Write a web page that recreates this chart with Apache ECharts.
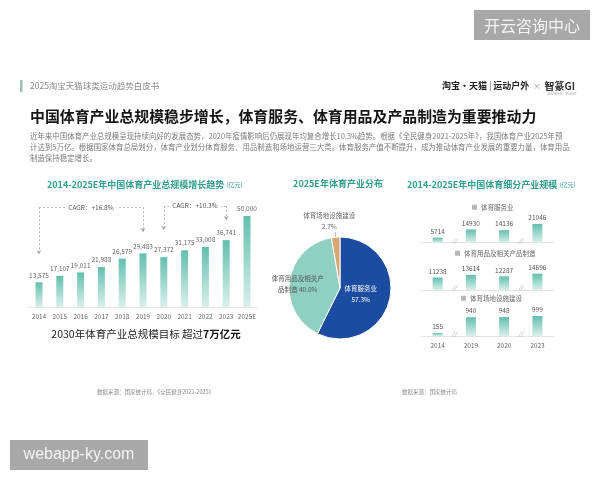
<!DOCTYPE html>
<html><head><meta charset="utf-8">
<script src="https://cdn.jsdelivr.net/npm/echarts@6/dist/echarts.min.js"></script>
<style>html,body{margin:0;padding:0;background:#fff}#c{width:600px;height:480px}</style>
</head><body><div id="c"></div>
<script>
// ---- data ----
const years = ['2014','2015','2016','2017','2018','2019','2020','2021','2022','2023','2025E'];
const totalScale = [13575,17107,19011,21988,26579,29483,27372,31175,33008,36741,50000];
const pieNames = ['体育服务业','体育用品及相关产品制造','体育场地设施建设'];
const pieShares = [57.3, 40.0, 2.7];
const subYears = ['2014','2019','2020','2023'];
const serviceScale = [5714,14930,14136,21046];
const goodsScale = [11238,13614,12287,14696];
const venueScale = [155,940,948,999];
const cagrNotes = ['CAGR：+16.8%','CAGR：+10.3%'];
const cagrSpans = [['2014','2019'],['2020','2023']];

// ---- styles ----
const FONT = '"Noto Sans CJK SC", "Noto Sans", sans-serif';
const TEAL = '#2f9d8f';
const barGrad = new echarts.graphic.LinearGradient(0,0,0,1,[{offset:0,color:'#62bfae'},{offset:1,color:'#d9f0eb'}]);

const chart = echarts.init(document.getElementById('c'), null, {renderer:'canvas'});

// CAGR annotation geometry (in data units of the left chart)
const cagrLevel = [54800, 55500];
const cagrTips = [[29000, 41200],[42300, 47800]];
const dashStyle = {type:[2,2], color:'#a8a8a8', width:0.8};
const markData = [];
cagrSpans.forEach((sp, i) => {
  const lvl = cagrLevel[i];
  const lab = {show:true, position:'insideMiddle', formatter:cagrNotes[i], backgroundColor:'#fff', padding:[1,3], fontSize:6.5, color:'#555', fontFamily:FONT};
  markData.push([
    {coord:[sp[0], lvl], symbol:'none', label:lab},
    {coord:[sp[1], lvl], symbol:'none', label:lab}
  ]);
  markData.push([{coord:[sp[0], lvl], symbol:'none'},{coord:[sp[0], cagrTips[i][0]], symbol:'arrow', symbolSize:[4,4]}]);
  markData.push([{coord:[sp[1], lvl], symbol:'none'},{coord:[sp[1], cagrTips[i][1]], symbol:'arrow', symbolSize:[4,4]}]);
});

// break marks between non-consecutive years
const breaks = [];
for (let i = 0; i < subYears.length - 1; i++) {
  if (parseInt(subYears[i+1]) - parseInt(subYears[i]) > 1) breaks.push([i + 0.5, 0]);
}

const subGrids = [
  {top:212.7, height:30},
  {top:260, height:30},
  {top:306, height:30}
];
const subMax = [33750, 27000, 1500];
const subSeries = [serviceScale, goodsScale, venueScale];
const subNames = [pieNames[0], pieNames[1], pieNames[2]];
const legendLeft = [472, 455, 461];
const legendTop = [204, 250, 295];

const grids = [{left:28.6, width:228.8, top:197.8, height:109.2}];
subGrids.forEach(g => grids.push({left:421, width:133, top:g.top, height:g.height}));

const xAxes = [{
  type:'category', data:years, gridIndex:0,
  axisLine:{lineStyle:{color:'#e3e3e3'}}, axisTick:{show:false},
  axisLabel:{interval:0, fontSize:6.5, color:'#666', margin:6, fontFamily:FONT}
}];
const yAxes = [{type:'value', gridIndex:0, min:0, max:60000, show:false}];
subGrids.forEach((g, k) => {
  xAxes.push({type:'category', data:subYears, gridIndex:k+1,
    axisLine:{lineStyle:{color:'#e3e3e3'}}, axisTick:{show:false},
    axisLabel:{show:k===2, interval:0, fontSize:6.5, color:'#666', margin:6, fontFamily:FONT}});
  yAxes.push({type:'value', gridIndex:k+1, min:0, max:subMax[k], show:false});
});
subGrids.forEach((g, k) => {
  xAxes.push({type:'value', gridIndex:k+1, min:-0.5, max:subYears.length-0.5, show:false});
});

const series = [{
  type:'bar', name:'total', data:totalScale, xAxisIndex:0, yAxisIndex:0, barWidth:7,
  itemStyle:{color:barGrad},
  label:{show:true, position:'top', distance:4, fontSize:6.5, color:'#666', fontFamily:FONT,
    formatter:p => p.value.toLocaleString('en-US')},
  markLine:{silent:true, symbol:['none','none'], symbolSize:4, lineStyle:dashStyle,
    label:{show:false}, data:markData}
}, {
  type:'pie', center:[340,288], radius:51, startAngle:90, clockwise:true,
  itemStyle:{borderColor:'#fff', borderWidth:1},
  data:pieNames.map((n, i) => ({name:n, value:pieShares[i]})),
  color:['#1c4ca0','#8fd0c3','#d6a870'],
  label:{fontSize:6.5, fontFamily:FONT, lineHeight:11,
    formatter:p => {
      const v = p.value.toFixed(1) + '%';
      if (p.dataIndex === 1) return p.name.slice(0,8) + '\n' + p.name.slice(8) + ' ' + v;
      return p.name + '\n' + v;
    }},
  labelLine:{length:5, length2:1, lineStyle:{color:'#999', width:0.6}},
  labelLayout:p => p.dataIndex === 2 ? {align:'center', verticalAlign:'bottom'} : {},
  animation:false
}];
series[1].data[0].label = {position:'inside', color:'#fff', padding:[0,14,0,0]};
series[1].data[1].label = {position:'inside', color:'#555', padding:[0,28,0,0]};
series[1].data[2].label = {position:'outside', color:'#666'};

subSeries.forEach((arr, k) => {
  series.push({
    type:'bar', name:subNames[k], data:arr, xAxisIndex:k+1, yAxisIndex:k+1, barWidth:10,
    itemStyle:{color:barGrad},
    label:{show:true, position:'top', distance:3, fontSize:6.5, color:'#555', fontFamily:FONT}
  });
  series.push({
    type:'scatter', data:breaks, xAxisIndex:4+k, yAxisIndex:k+1, symbolSize:1,
    itemStyle:{color:'rgba(0,0,0,0)'}, silent:true,
    label:{show:true, position:'inside', formatter:'//', fontSize:6, color:'#888', fontStyle:'italic', offset:[0,-2], fontFamily:FONT}
  });
});

const legends = subNames.map((n, k) => ({
  data:[n], left:legendLeft[k], top:legendTop[k], padding:0, icon:'rect',
  itemWidth:5, itemHeight:5, itemGap:3, selectedMode:false,
  itemStyle:{color:'#b8b8b8'},
  textStyle:{fontSize:6.5, color:'#666', fontFamily:FONT, padding:[0,0,0,-1]}
}));

function txt(x, y, text, o) {
  return {type:'text', x:x, y:y, silent:true, style:Object.assign({text:text, fontFamily:FONT, verticalAlign:'middle', align:'left'}, o)};
}

const graphic = [
  {type:'rect', shape:{x:20, y:80, width:2.5, height:12}, style:{fill:'#9fbdb7'}},
  txt(30, 86, '2025淘宝天猫球类运动趋势白皮书', {fontSize:8.5, fill:'#8a8a8a'}),
  txt(575, 86, '{a|淘宝·天猫}{s| | }{a|运动户外}{x|  ×  }{g|智篆GI}', {align:'right', fontSize:9,
    rich:{a:{fontSize:9, fontWeight:'bold', fill:'#222', fontFamily:FONT},
          s:{fontSize:9, fill:'#555', fontFamily:FONT},
          x:{fontSize:8, fill:'#999', fontFamily:FONT},
          g:{fontSize:10, fontWeight:'bold', fill:'#333', fontFamily:FONT}}}),
  txt(562, 94, 'ZHIZHUAN·INSIGHT', {align:'center', fontSize:3, fill:'#999'}),
  txt(30, 116, '中国体育产业总规模稳步增长，体育服务、体育用品及产品制造为重要推动力', {fontSize:14.9, fontWeight:'bold', fill:'#161616'}),
  txt(30, 136, '近年来中国体育产业总规模呈现持续向好的发展态势，2020年疫情影响后仍展现年均复合增长10.3%趋势。根据《全民健身2021-2025年》，我国体育产业2025年预', {fontSize:7.45, fill:'#7a7a7a'}),
  txt(30, 147, '计达到5万亿。根据国家体育总局划分，体育产业划分体育服务、用品制造和场地运营三大类。体育服务产值不断提升，成为推动体育产业发展的重要力量，体育用品', {fontSize:7.45, fill:'#7a7a7a'}),
  txt(30, 158, '制造保持稳定增长。', {fontSize:7.45, fill:'#7a7a7a'}),
  txt(47, 185, '2014-2025E年中国体育产业总规模增长趋势 {u|(亿元)}', {fontSize:9, fontWeight:'bold', fill:TEAL,
    rich:{u:{fontSize:6, fill:TEAL, fontFamily:FONT}}}),
  txt(338, 184, '2025E年体育产业分布', {align:'center', fontSize:9, fontWeight:'bold', fill:TEAL}),
  txt(407, 185, '2014-2025E年中国体育细分产业规模 {u|(亿元)}', {fontSize:9, fontWeight:'bold', fill:TEAL,
    rich:{u:{fontSize:6, fill:TEAL, fontFamily:FONT}}}),
  txt(146, 334, '2030年体育产业总规模目标 超过{b|7万亿元}', {align:'center', fontSize:10.5, fill:'#222',
    rich:{b:{fontSize:10.5, fontWeight:'bold', fill:'#111', fontFamily:FONT}}}),
  txt(97, 392, '数据来源：国家统计局、《全民健身2021-2025》', {fontSize:5.5, fill:'#8a8a8a'}),
  txt(402, 392, '数据来源：国家统计局', {fontSize:5.5, fill:'#8a8a8a'}),
  {type:'rect', shape:{x:474, y:10, width:116, height:30}, style:{fill:'#a8a8a8'}},
  txt(532, 25.5, '开云咨询中心', {align:'center', fontSize:16, fill:'#f4f4f4'}),
  {type:'rect', shape:{x:10, y:440, width:138, height:30}, style:{fill:'#a8a8a8'}},
  txt(79, 455, 'webapp-ky.com', {align:'center', fontSize:16, fill:'#f4f4f4', fontFamily:'"Liberation Sans", sans-serif'})
];

chart.setOption({
  backgroundColor:'#fff',
  animation:false,
  textStyle:{fontFamily:FONT},
  grid:grids, xAxis:xAxes, yAxis:yAxes, series:series, legend:legends, graphic:graphic
});
</script></body></html>
